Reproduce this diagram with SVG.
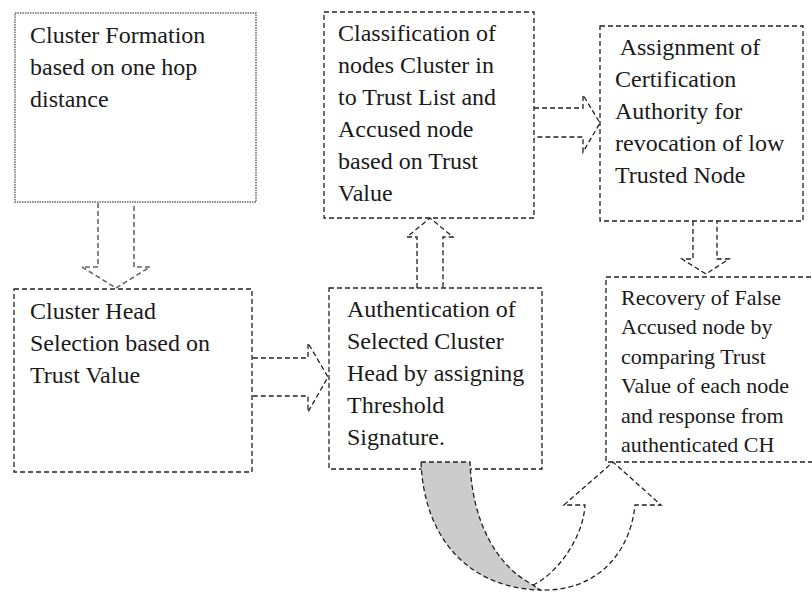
<svg xmlns="http://www.w3.org/2000/svg" width="812" height="592" viewBox="0 0 812 592">
<style>
.box{fill:#fff;stroke:#222;stroke-width:1.3;stroke-dasharray:5,3}
.dot{fill:#fff;stroke:#666;stroke-width:1.5;stroke-dasharray:1.5,1}
.arr{fill:none;stroke:#222;stroke-width:1.3;stroke-dasharray:5,3;stroke-linejoin:miter}
.garr{fill:none;stroke:#666;stroke-width:1.6;stroke-dasharray:5,3}
text{font-family:"Liberation Serif","Times New Roman",serif;font-size:24px;fill:#1a1a1a}
.sm{font-size:22px}
</style>
<rect width="812" height="592" fill="#fff"/>
<g id="n1">
<rect class="dot" x="15" y="13" width="241" height="189"/>
<text x="30" y="43">Cluster Formation</text>
<text x="30" y="75">based on one hop</text>
<text x="30" y="107">distance</text>
</g>
<g id="n2">
<rect class="box" x="14" y="289" width="238" height="183"/>
<text x="30" y="319">Cluster Head</text>
<text x="30" y="351">Selection based on</text>
<text x="30" y="383">Trust Value</text>
</g>
<g id="n3">
<rect class="box" x="329" y="288" width="213" height="181"/>
<text x="347" y="317">Authentication of</text>
<text x="347" y="349">Selected Cluster</text>
<text x="347" y="381">Head by assigning</text>
<text x="347" y="413">Threshold</text>
<text x="347" y="445">Signature.</text>
</g>
<g id="n4">
<rect class="box" x="324" y="12" width="210" height="206"/>
<text x="338" y="41">Classification of</text>
<text x="338" y="73">nodes Cluster in</text>
<text x="338" y="105">to Trust List and</text>
<text x="338" y="137">Accused node</text>
<text x="338" y="169">based on Trust</text>
<text x="338" y="201">Value</text>
</g>
<g id="n5">
<rect class="box" x="600" y="26" width="203" height="195"/>
<text x="615" y="55" xml:space="preserve"> Assignment of</text>
<text x="615" y="87">Certification</text>
<text x="615" y="119">Authority for</text>
<text x="615" y="151">revocation of low</text>
<text x="615" y="183">Trusted Node</text>
</g>
<g id="n6">
<rect class="box" x="606" y="277" width="215" height="185"/>
<text class="sm" x="621" y="305">Recovery of False</text>
<text class="sm" x="621" y="334">Accused node by</text>
<text class="sm" x="621" y="364">comparing Trust</text>
<text class="sm" x="621" y="393">Value of each node</text>
<text class="sm" x="621" y="423">and response from</text>
<text class="sm" x="621" y="452">authenticated CH</text>
</g>
<g id="connectors">
<path class="garr" d="M98,203 V267 H82 L116,288 L150,267 H134 V203"/>
<path class="arr" d="M253,358 H308 V343 L328,377 L308,412 V396 H253"/>
<path class="arr" d="M417,288 V237 H407 L430,218 L453,237 H443 V288"/>
<path class="arr" d="M534,108 H583 V95 L600,123 L583,152 V137 H534"/>
<path class="arr" d="M693,221 V259 H682 L706,274 L729,259 H717 V221"/>
<path class="arr" d="M533,585 C555,575 583,540 585,505 L564,505 L613,462 L661,505 L635,505 C630,555 595,592 540,590 Z" fill="#fff" style="fill:#fff"/>
<path class="arr" d="M421,462 L470,462 C472,520 495,565 533,585 L540,590 C470,588 424,540 421,462 Z" style="fill:#cccccc"/>
</g>
</svg>
